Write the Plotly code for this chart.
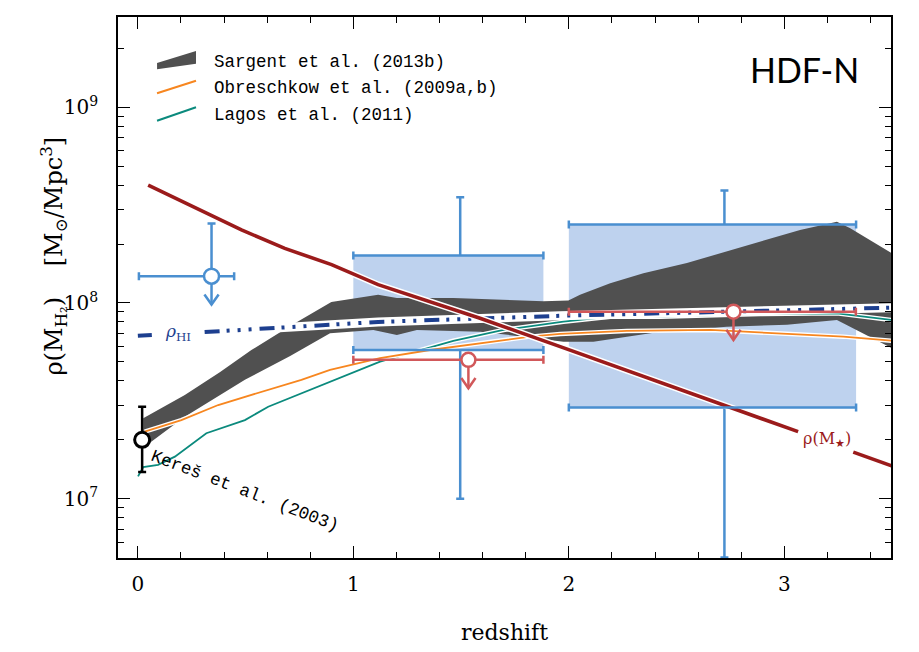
import numpy as np
import plotly.graph_objects as go

# ---------------- data ----------------
# Sargent et al. (2013b) band
band_z_up = [0.025, 0.218, 0.382, 0.527, 0.707, 0.898, 1.115, 1.202, 1.464, 1.882, 1.998, 2.052,
             2.192, 2.346, 2.548, 2.733, 2.919, 3.073, 3.244, 3.306, 3.5]
band_up = [2.58e7, 3.39e7, 4.44e7, 5.75e7, 7.62e7, 1.01e8, 1.10e8, 1.06e8, 1.06e8, 1.02e8, 1.03e8, 1.10e8,
           1.26e8, 1.42e8, 1.60e8, 1.83e8, 2.10e8, 2.36e8, 2.60e8, 2.41e8, 1.79e8]
band_z_lo = [0.025, 0.218, 0.497, 0.707, 0.892, 1.093, 1.202, 1.295, 1.588, 1.789, 1.975, 2.114,
             2.425, 2.733, 3.012, 3.244, 3.5]
band_lo = [1.82e7, 2.62e7, 4.05e7, 5.36e7, 7.0e7, 7.28e7, 6.85e7, 7.28e7, 7.13e7, 6.73e7, 6.34e7, 6.34e7,
           7.13e7, 7.57e7, 7.73e7, 8.18e7, 5.87e7]

# Obreschkow et al. (2009a,b)
z_ob = [0.032, 0.202, 0.373, 0.574, 0.759, 0.892, 1.124, 1.356, 1.588, 1.820, 1.960, 2.269, 2.658,
        2.965, 3.274, 3.5]
rho_ob = [2.2e7, 2.52e7, 3.01e7, 3.52e7, 4.05e7, 4.55e7, 5.22e7, 5.75e7, 6.22e7, 6.73e7, 6.95e7, 7.2e7,
          7.28e7, 7.0e7, 6.73e7, 6.41e7]

# Lagos et al. (2011)
z_la = [0.001, 0.025, 0.094, 0.172, 0.318, 0.497, 0.605, 0.914, 1.124, 1.464, 1.697, 1.975, 2.192,
        2.424, 2.888, 3.244, 3.5]
rho_la = [1.30e7, 1.45e7, 1.49e7, 1.64e7, 2.16e7, 2.52e7, 2.95e7, 4.05e7, 5.01e7, 6.41e7, 7.28e7,
          8.02e7, 8.51e7, 8.51e7, 8.79e7, 8.85e7, 8.18e7]

# stellar mass density rho(M*)
z_mstar = [0.048, 0.241, 0.481, 0.682, 0.899, 1.115, 1.588, 1.960, 2.733, 3.064, None, 3.320, 3.499]
rho_mstar = [4.0e8, 3.17e8, 2.36e8, 1.9e8, 1.57e8, 1.24e8, 8.36e7, 5.98e7, 2.95e7, 2.2e7, None, 1.73e7, 1.47e7]

# HI density rho_HI
z_hi = [0.0, 0.065, None, 0.31, 1.115, 1.96, 3.5]
rho_hi = [6.8e7, 6.87e7, None, 7.10e7, 8.0e7, 8.6e7, 9.46e7]

# blue boxes (HDF-N constraints)
box_z0 = [1.0, 2.0]
box_z1 = [1.882, 3.333]
box_lo = [5.75e7, 2.92e7]
box_hi = [1.75e8, 2.52e8]
box_err_z = [1.496, 2.722]
box_err_lo = [1.0e7, 5.0e6]
box_err_hi = [3.47e8, 3.75e8]

# red upper limits
red_z = [1.534, 2.764]
red_rho = [5.12e7, 9.03e7]
red_z0 = [1.0, 2.0]
red_z1 = [1.882, 3.332]

# blue upper limit
blue_z = [0.342]
blue_rho = [1.37e8]
blue_z0 = [0.005]
blue_z1 = [0.447]
blue_hi = [2.55e8]

# Keres et al. (2003)
keres_z = [0.02]
keres_rho = [2.0e7]
keres_lo = [1.37e7]
keres_hi = [2.95e7]

x_ticks = [0, 1, 2, 3]
y_ticks = [1e7, 1e8, 1e9]
y_ticktext = ["10<sup>7</sup>", "10<sup>8</sup>", "10<sup>9</sup>"]

# ---------------- styles ----------------
C_DARKRED = "#9b1b1b"
C_BLUE = "#4a8fd0"
C_BOX = "#bed2ee"
C_GRAY = "#505050"
C_ORANGE = "#f7861f"
C_TEAL = "#0b8a7d"
C_HI = "#1d3f8f"
C_RED = "#d1585a"
SERIF = "DejaVu Serif"
MONO = "Liberation Mono"

X_RANGE = [-0.092, 3.495]
Y_RANGE = [6.697, 9.461]
ARROW_DEC = 0.145          # arrow length (decades)
ARM_DX = 0.033             # arrow-head half width (x units)
ARM_DY = 0.052             # arrow-head height (decades)

fig = go.Figure()

# vertical error bars of boxes (drawn under fills)
bc = [np.sqrt(a * b) for a, b in zip(box_lo, box_hi)]
fig.add_trace(go.Scatter(
    x=box_err_z, y=bc, mode="markers",
    marker=dict(size=1, color="rgba(0,0,0,0)"),
    error_y=dict(type="data", symmetric=False,
                 array=[h - c for h, c in zip(box_err_hi, bc)],
                 arrayminus=[c - l for c, l in zip(bc, box_err_lo)],
                 color=C_BLUE, thickness=2.5, width=4),
    showlegend=False, hoverinfo="skip"))

# box fills
for x0, x1, y0, y1 in zip(box_z0, box_z1, box_lo, box_hi):
    fig.add_trace(go.Scatter(x=[x0, x1, x1, x0, x0], y=[y0, y0, y1, y1, y0],
                             fill="toself", fillcolor=C_BOX, mode="lines",
                             line=dict(width=0), showlegend=False, hoverinfo="skip"))

# Sargent band
fig.add_trace(go.Scatter(x=band_z_up + band_z_lo[::-1], y=band_up + band_lo[::-1],
                         fill="toself", fillcolor=C_GRAY, mode="lines", line=dict(width=0),
                         showlegend=False, hoverinfo="skip"))

# model lines with white halo
for zz, rr, col in [(z_la, rho_la, C_TEAL), (z_ob, rho_ob, C_ORANGE)]:
    fig.add_trace(go.Scatter(x=zz, y=rr, mode="lines", line=dict(color="white", width=4.5),
                             showlegend=False, hoverinfo="skip"))
    fig.add_trace(go.Scatter(x=zz, y=rr, mode="lines", line=dict(color=col, width=1.8),
                             showlegend=False, hoverinfo="skip"))

# rho_HI
fig.add_trace(go.Scatter(x=z_hi, y=rho_hi, mode="lines", line=dict(color="white", width=9),
                         showlegend=False, hoverinfo="skip"))
fig.add_trace(go.Scatter(x=z_hi, y=rho_hi, mode="lines",
                         line=dict(color=C_HI, width=4,
                                   dash="15px,7px,3px,8px,3px,8px,3px,8px"),
                         showlegend=False, hoverinfo="skip"))

# rho(M*)
fig.add_trace(go.Scatter(x=z_mstar, y=rho_mstar, mode="lines", line=dict(color="white", width=6.5),
                         showlegend=False, hoverinfo="skip"))
fig.add_trace(go.Scatter(x=z_mstar, y=rho_mstar, mode="lines", line=dict(color=C_DARKRED, width=3.6),
                         showlegend=False, hoverinfo="skip"))

# box horizontal edges
bxc = [(a + b) / 2 for a, b in zip(box_z0, box_z1)]
fig.add_trace(go.Scatter(
    x=bxc + bxc, y=box_lo + box_hi, mode="markers",
    marker=dict(size=1, color="rgba(0,0,0,0)"),
    error_x=dict(type="data", symmetric=False,
                 array=[b - c for b, c in zip(box_z1, bxc)] * 2,
                 arrayminus=[c - a for a, c in zip(box_z0, bxc)] * 2,
                 color=C_BLUE, thickness=2.5, width=4),
    showlegend=False, hoverinfo="skip"))


def arrows(zs, rs):
    xs, ys = [], []
    for z, r in zip(zs, rs):
        tip = r * 10 ** (-ARROW_DEC)
        arm = tip * 10 ** ARM_DY
        xs += [z, z, None, z - ARM_DX, z, z + ARM_DX, None]
        ys += [r, tip, None, arm, tip, arm, None]
    return xs, ys


# red upper limits
ax, ay = arrows(red_z, red_rho)
fig.add_trace(go.Scatter(x=ax, y=ay, mode="lines", line=dict(color=C_RED, width=2.5),
                         showlegend=False, hoverinfo="skip"))
fig.add_trace(go.Scatter(
    x=red_z, y=red_rho, mode="markers",
    marker=dict(symbol="circle", size=14, color="white", line=dict(color=C_RED, width=2.5)),
    error_x=dict(type="data", symmetric=False,
                 array=[b - c for b, c in zip(red_z1, red_z)],
                 arrayminus=[c - a for a, c in zip(red_z0, red_z)],
                 color=C_RED, thickness=2.5, width=4),
    showlegend=False, hoverinfo="skip"))

# blue upper limit
ax, ay = arrows(blue_z, blue_rho)
fig.add_trace(go.Scatter(x=ax, y=ay, mode="lines", line=dict(color=C_BLUE, width=2.5),
                         showlegend=False, hoverinfo="skip"))
fig.add_trace(go.Scatter(
    x=blue_z, y=blue_rho, mode="markers",
    marker=dict(symbol="circle", size=15, color="white", line=dict(color=C_BLUE, width=2.5)),
    error_x=dict(type="data", symmetric=False,
                 array=[b - c for b, c in zip(blue_z1, blue_z)],
                 arrayminus=[c - a for a, c in zip(blue_z0, blue_z)],
                 color=C_BLUE, thickness=2.5, width=4),
    error_y=dict(type="data", symmetric=False,
                 array=[h - c for h, c in zip(blue_hi, blue_rho)], arrayminus=[0],
                 color=C_BLUE, thickness=2.5, width=4),
    showlegend=False, hoverinfo="skip"))

# Keres point
fig.add_trace(go.Scatter(
    x=keres_z, y=keres_rho, mode="markers",
    marker=dict(symbol="circle", size=15, color="white", line=dict(color="black", width=3)),
    error_y=dict(type="data", symmetric=False,
                 array=[h - c for h, c in zip(keres_hi, keres_rho)],
                 arrayminus=[c - l for c, l in zip(keres_rho, keres_lo)],
                 color="black", thickness=2.5, width=4),
    showlegend=False, hoverinfo="skip"))

# ---------------- annotations ----------------
ann = []
ann.append(dict(x=3.197, y=np.log10(2.0e7), xref="x", yref="y", showarrow=False,
                text="ρ(M<sub>★</sub>)", font=dict(family=SERIF, size=16, color=C_DARKRED)))
ann.append(dict(x=0.187, y=np.log10(7.03e7), xref="x", yref="y", showarrow=False,
                text="<i>ρ</i><sub>HI</sub>", font=dict(family=SERIF, size=17, color=C_HI)))
ann.append(dict(x=0.497, y=np.log10(1.09e7), xref="x", yref="y", showarrow=False, textangle=21,
                text="Kereš et al. (2003)", font=dict(family=MONO, size=17.5, color="black")))

# legend
leg = [("Sargent et al. (2013b)", 0.9174), ("Obreschkow et al. (2009a,b)", 0.8682),
       ("Lagos et al. (2011)", 0.8189)]
for t, yy in leg:
    ann.append(dict(x=0.1212, y=yy, xref="paper", yref="paper", xanchor="left", yanchor="middle",
                    showarrow=False, text=t, font=dict(family=MONO, size=17.5, color="black")))

ann.append(dict(x=0.961, y=0.9033, xref="paper", yref="paper", xanchor="right", yanchor="middle",
                showarrow=False, text="HDF-N", font=dict(family="Lato", size=34, color="black")))

ann.append(dict(x=0.5, y=-0.1368, xref="paper", yref="paper", showarrow=False, yanchor="middle",
                text="redshift", font=dict(family=SERIF, size=22, color="black")))
ann.append(dict(x=-0.1087, y=0.558, xref="paper", yref="paper", showarrow=False, textangle=-90,
                text="ρ(M<sub>H₂</sub>)\u00a0\u00a0\u00a0\u00a0[M<sub>⊙</sub>/Mpc<sup>3</sup>]",
                font=dict(family=SERIF, size=24, color="black")))

shapes = [
    dict(type="path", xref="paper", yref="paper",
         path="M 0.0505 0.9150 L 0.1009 0.9372 L 0.1009 0.9137 L 0.0505 0.9033 Z",
         fillcolor=C_GRAY, line=dict(width=0)),
    dict(type="line", xref="paper", yref="paper", x0=0.0505, y0=0.859, x1=0.1009, y1=0.8823,
         line=dict(color=C_ORANGE, width=2)),
    dict(type="line", xref="paper", yref="paper", x0=0.0505, y0=0.8083, x1=0.1009, y1=0.8331,
         line=dict(color=C_TEAL, width=2)),
]

y_minor = [k * 10 ** n for n in range(6, 10) for k in range(2, 10)]

fig.update_layout(
    width=919, height=652,
    margin=dict(l=118, r=28, t=17, b=94),
    plot_bgcolor="white", paper_bgcolor="white",
    showlegend=False,
    annotations=ann, shapes=shapes,
    xaxis=dict(range=X_RANGE, tickmode="array", tickvals=x_ticks, ticktext=[str(v) for v in x_ticks],
               ticks="inside", ticklen=12, tickwidth=1.3, tickcolor="black",
               showline=True, linecolor="black", linewidth=1.6, mirror="allticks",
               showgrid=False, zeroline=False, ticklabelstandoff=7,
               tickfont=dict(family=SERIF, size=20, color="black"),
               minor=dict(ticks="inside", ticklen=6, tickwidth=1.2, tickcolor="black", dtick=0.2,
                          tick0=0, showgrid=False)),
    yaxis=dict(type="log", range=Y_RANGE, tickmode="array", tickvals=y_ticks, ticktext=y_ticktext,
               ticks="inside", ticklen=12, tickwidth=1.3, tickcolor="black",
               showline=True, linecolor="black", linewidth=1.6, mirror="allticks",
               showgrid=False, zeroline=False, ticklabelstandoff=14,
               tickfont=dict(family=SERIF, size=20, color="black"),
               minor=dict(ticks="inside", ticklen=6, tickwidth=1.2, tickcolor="black",
                          tickmode="array", tickvals=y_minor, showgrid=False)),
)

fig.write_html("out.html")
